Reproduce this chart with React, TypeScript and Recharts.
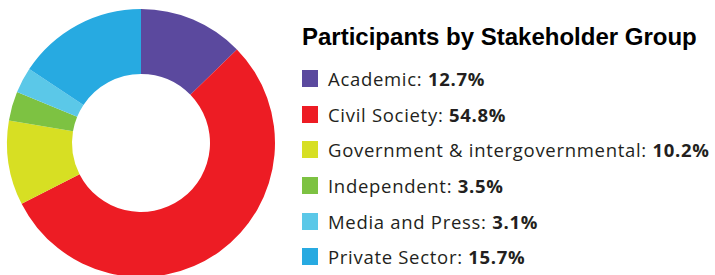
import { PieChart, Pie, Cell, Legend } from "recharts";

const groups = [
    "Academic",
    "Civil Society",
    "Government & intergovernmental",
    "Independent",
    "Media and Press",
    "Private Sector",
];
const shares = [12.7, 54.8, 10.2, 3.5, 3.1, 15.7];
const colors = ["#5b499e", "#ed1c24", "#d7df23", "#7dc242", "#5bc8e8", "#27aae1"];

const data = groups.map((name, i) => ({ name, value: shares[i] }));

function StakeholderLegend() {
    return (
        <div style={{ fontFamily: "'Open Sans', sans-serif", color: "#231f20" }}>
            <div style={{ fontFamily: "'Liberation Sans', Arial, sans-serif", fontWeight: 700, fontSize: 24, color: "#000", lineHeight: "26px", marginTop: 4, marginBottom: 11, whiteSpace: "nowrap" }}>
                Participants by Stakeholder Group
            </div>
            {data.map((d, i) => (
                <div key={d.name} style={{ display: "flex", alignItems: "center", height: 35.6, fontSize: 18.5, letterSpacing: 0.7 }}>
                    <span style={{ width: 16, height: 17, background: colors[i], marginRight: 10, flexShrink: 0 }} />
                    <span style={{ whiteSpace: "nowrap" }}>
                        {d.name}: <b>{d.value.toFixed(1)}%</b>
                    </span>
                </div>
            ))}
        </div>
    );
}

function App() {
    return (
        <div style={{ position: "absolute", left: 0, top: 0, background: "#fff" }}>
            <PieChart width={715} height={275} margin={{ top: 0, right: 0, bottom: 0, left: 0 }}>
                <Pie
                    data={data}
                    dataKey={"value"}
                    cx={141}
                    cy={143}
                    innerRadius={69}
                    outerRadius={134}
                    startAngle={90}
                    endAngle={-270}
                    stroke={"none"}
                    isAnimationActive={false}
                >
                    {data.map((d, i) => (
                        <Cell key={d.name} fill={colors[i]} />
                    ))}
                </Pie>
                <Legend
                    layout={"vertical"}
                    align={"right"}
                    verticalAlign={"top"}
                    content={() => <StakeholderLegend />}
                    wrapperStyle={{ left: 302, top: 20, width: 413 }}
                />
            </PieChart>
        </div>
    );
}

export default App;
